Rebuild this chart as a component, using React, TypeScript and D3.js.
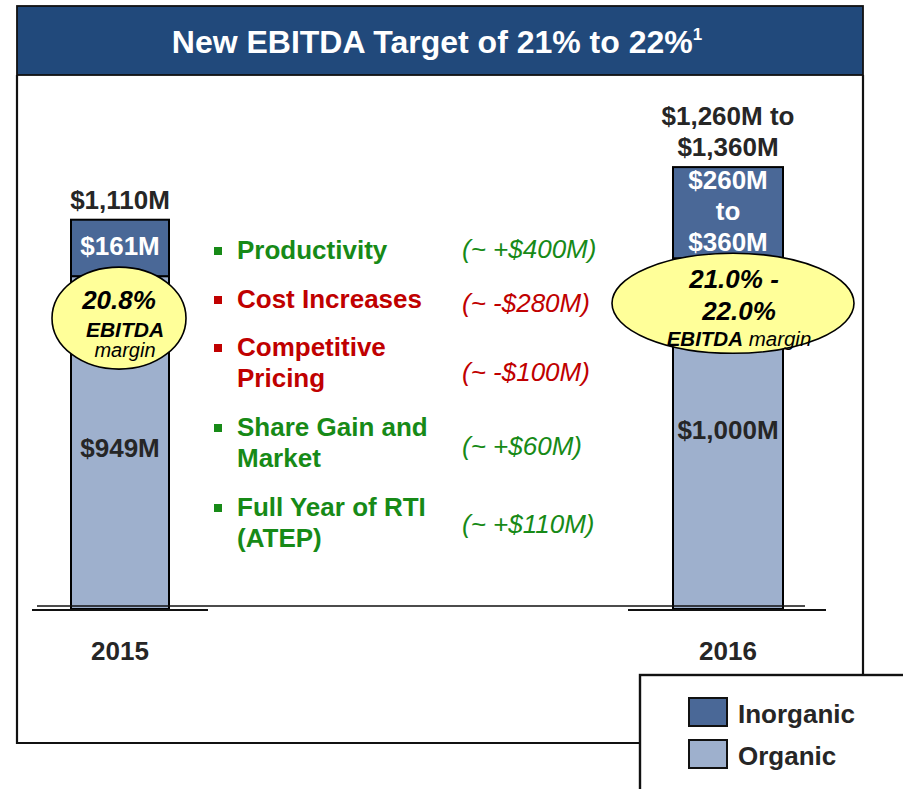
import React from 'react';
import * as d3 from 'd3';

// ---------- data ----------
const years = ['2015', '2016'];
const organic = [949, 1000];
const inorganic = [161, 260];
const organicLabels = ['$949M', '$1,000M'];
const inorganicLabels = [['$161M'], ['$260M', 'to', '$360M']];
const totalLabels = [['$1,110M'], ['$1,260M to', '$1,360M']];
const seriesNames = ['Inorganic', 'Organic'];

const driverNames = [
  ['Productivity'],
  ['Cost Increases'],
  ['Competitive', 'Pricing'],
  ['Share Gain and', 'Market'],
  ['Full Year of RTI', '(ATEP)'],
];
const driverAmounts = ['(~ +$400M)', '(~ -$280M)', '(~ -$100M)', '(~ +$60M)', '(~ +$110M)'];
const driverPositive = [true, false, false, true, true];

const titleText = 'New EBITDA Target of 21% to 22%';
const titleNote = '1';

// ---------- styles / layout ----------
const FONT = '"Liberation Sans", Arial, Helvetica, sans-serif';
const C_TITLE = '#21497b';
const C_INORG = '#4a6897';
const C_ORG = '#9eb0cd';
const C_YELLOW = '#ffff99';
const C_DARK = '#262626';
const C_GREEN = '#178a17';
const C_RED = '#c00000';

const barWidths = [98, 110];
const ellipseR = [
  { rx: 67, ry: 51, dy: 42 },
  { rx: 121, ry: 50, dy: 45 },
];

export default function App() {
  const x = d3.scalePoint<string>().domain(years).range([120, 728]);
  const y = d3.scaleLinear().domain([0, 1400]).range([609, 118]);

  const stack = years.map((yr, i) => ({
    year: yr,
    org: [0, organic[i]],
    inorg: [organic[i], organic[i] + inorganic[i]],
  }));

  const driverY = [259, 308, 356, 436, 516];
  const amountY = [258, 312, 381, 455, 533];

  return (
    <svg
      width={903}
      height={789}
      style={{ position: 'absolute', left: 0, top: 0, background: '#fff' }}
      fontFamily={FONT}
    >
      {/* frame */}
      <path d="M17,75 V743 H640" fill="none" stroke="#111" strokeWidth={2.2} />
      <path d="M863,75 V675" fill="none" stroke="#111" strokeWidth={2.2} />
      {/* title */}
      <rect x={17} y={6} width={846} height={69} fill={C_TITLE} stroke="#111" strokeWidth={1.8} />
      <text x={437} y={53} textAnchor="middle" fill="#fff" fontWeight="bold" fontSize={32}>
        {titleText}
        <tspan fontSize={17} dy={-13}>{titleNote}</tspan>
      </text>

      {/* bars */}
      {stack.map((d, i) => {
        const cx = x(d.year)!;
        const w = barWidths[i];
        const x0 = cx - w / 2;
        return (
          <g key={d.year}>
            <rect x={x0} y={y(d.org[1])} width={w} height={y(d.org[0]) - y(d.org[1])} fill={C_ORG} stroke="#000" strokeWidth={2} />
            <rect x={x0} y={y(d.inorg[1])} width={w} height={y(d.inorg[0]) - y(d.inorg[1])} fill={C_INORG} stroke="#000" strokeWidth={2} />
          </g>
        );
      })}

      {/* baselines */}
      <line x1={37} x2={805} y1={606} y2={606} stroke="#111" strokeWidth={1.6} />
      {years.map((yr, i) => {
        const cx = x(yr)!;
        const ext = i === 0 ? [88, 88] : [100, 98];
        return <line key={yr} x1={cx - ext[0]} x2={cx + ext[1]} y1={610} y2={610} stroke="#111" strokeWidth={1.8} />;
      })}

      {/* labels on bars */}
      {stack.map((d, i) => {
        const cx = x(d.year)!;
        const top = y(d.inorg[1]);
        const bnd = y(d.org[1]);
        const totLines = totalLabels[i];
        const inLines = inorganicLabels[i];
        const mid = (top + bnd) / 2;
        const e = ellipseR[i];
        return (
          <g key={'l' + d.year} fontWeight="bold" fontSize={26} textAnchor="middle">
            {totLines.map((t, j) => (
              <text key={j} x={cx} y={top - 11 - (totLines.length - 1 - j) * 31} fill={C_DARK}>{t}</text>
            ))}
            {inLines.map((t, j) => (
              <text key={j} x={cx} y={mid + 7 + (j - (inLines.length - 1) / 2) * 31} fill="#fff">{t}</text>
            ))}
            <text x={cx} y={bnd + 181} fill={C_DARK}>{organicLabels[i]}</text>
            <text x={cx} y={660} fill={C_DARK}>{d.year}</text>
            <ellipse cx={cx + (i === 0 ? -1 : 5)} cy={bnd + e.dy} rx={e.rx} ry={e.ry} fill={C_YELLOW} stroke="#000" strokeWidth={1.6} />
          </g>
        );
      })}

      {/* ellipse texts */}
      <g fill="#000" textAnchor="middle" fontStyle="italic">
        <text x={119} y={309} fontWeight="bold" fontSize={26}>20.8%</text>
        <text x={125} y={337} fontWeight="bold" fontSize={21}>EBITDA</text>
        <text x={125} y={357} fontSize={20}>margin</text>
        <text x={734} y={288} fontWeight="bold" fontSize={26}>21.0% -</text>
        <text x={739} y={320} fontWeight="bold" fontSize={26}>22.0%</text>
        <text x={739} y={346} fontSize={20.5}>
          <tspan fontWeight="bold">EBITDA</tspan> margin
        </text>
      </g>

      {/* drivers */}
      {driverNames.map((lines, i) => {
        const col = driverPositive[i] ? C_GREEN : C_RED;
        const by = driverY[i];
        return (
          <g key={'d' + i} fill={col}>
            <rect x={214} y={by - 12} width={8} height={8} />
            {lines.map((t, j) => (
              <text key={j} x={237} y={by + j * 31} fontWeight="bold" fontSize={26}>{t}</text>
            ))}
            <text x={462} y={amountY[i]} fontStyle="italic" fontSize={26}>{driverAmounts[i]}</text>
          </g>
        );
      })}

      {/* legend */}
      <rect x={640} y={675} width={290} height={140} fill="#fff" stroke="#111" strokeWidth={2.4} />
      {seriesNames.map((s, i) => (
        <g key={s}>
          <rect x={689} y={698 + i * 42} width={38} height={28} fill={i === 0 ? C_INORG : C_ORG} stroke="#111" strokeWidth={2} />
          <text x={738} y={723 + i * 42} fontWeight="bold" fontSize={26} fill={C_DARK}>{s}</text>
        </g>
      ))}
    </svg>
  );
}
